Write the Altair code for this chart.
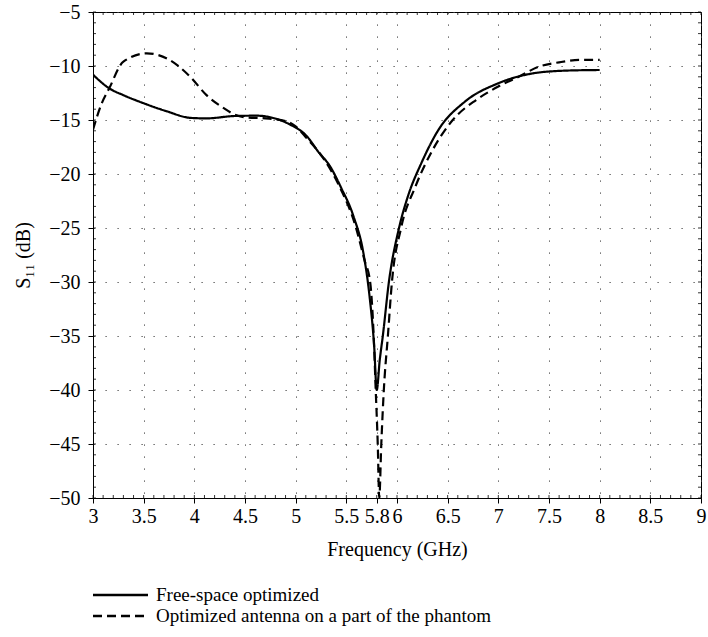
import altair as alt
import pandas as pd

# ---- data ----
freq_free = [3.0, 3.16, 3.3, 3.5, 3.73, 3.96, 4.12, 4.4, 4.62, 4.75, 4.94, 5.11, 5.22, 5.34,
             5.45, 5.57, 5.67, 5.73, 5.775, 5.80, 5.83, 5.86, 5.92, 6.02, 6.11, 6.24, 6.41,
             6.67, 7.0, 7.33, 7.66, 8.0]
s11_free = [-10.8, -12.07, -12.7, -13.45, -14.2, -14.8, -14.85, -14.63, -14.6, -14.75, -15.4,
            -16.5, -17.9, -19.3, -21.3, -23.9, -27.4, -31.4, -36.0, -40.0, -37.2, -35.0, -30.0,
            -25.0, -22.0, -19.0, -15.9, -13.3, -11.6, -10.7, -10.43, -10.37]

freq_ph = [3.0, 3.08, 3.16, 3.3, 3.53, 3.73, 3.96, 4.12, 4.29, 4.40, 4.5, 4.7, 4.9, 5.0, 5.11,
           5.27, 5.45, 5.58, 5.68, 5.735, 5.77, 5.79, 5.81, 5.825, 5.845, 5.87, 5.91, 5.95,
           6.04, 6.18, 6.35, 6.55, 6.78, 7.0, 7.2, 7.4, 7.6, 7.8, 8.0]
s11_ph = [-15.9, -13.6, -12.07, -9.6, -8.83, -9.3, -11.0, -12.7, -13.9, -14.5, -14.75, -14.85,
          -15.1, -15.6, -16.7, -18.5, -21.5, -24.5, -28.0, -30.0, -35.0, -40.0, -45.0, -50.0,
          -45.0, -40.0, -35.0, -30.0, -25.0, -21.2, -17.8, -15.0, -13.15, -11.9, -11.0, -10.06,
          -9.66, -9.44, -9.44]

series_names = ["Free-space optimized", "Optimized antenna on a part of the phantom"]
x_ticks = [3, 3.5, 4, 4.5, 5, 5.5, 5.8, 6, 6.5, 7, 7.5, 8, 8.5, 9]
y_ticks = [-5, -10, -15, -20, -25, -30, -35, -40, -45, -50]
x_minor = [round(3 + 0.1 * i, 1) for i in range(61)]
y_minor = list(range(-50, -4))

df = pd.concat([
    pd.DataFrame({"f": freq_free, "s11": s11_free, "series": series_names[0]}),
    pd.DataFrame({"f": freq_ph, "s11": s11_ph, "series": series_names[1]}),
])

W, H = 608, 486
FONT = "Liberation Serif"
FS = 20

xscale = alt.Scale(domain=[3, 9], nice=False, zero=False)
yscale = alt.Scale(domain=[-50, -5], nice=False, zero=False)

grid_kw = dict(grid=True, gridColor="#444", gridDash=[1.2, 10.8], gridWidth=1,
               domainColor="black", tickColor="black", tickSize=5, tickWidth=1,
               labelFont=FONT, labelFontSize=FS, labelColor="black",
               titleFont=FONT, titleFontSize=FS, titleColor="black", titleFontWeight="normal",
               labelFlush=False, labelOverlap=False)

x_axis = alt.Axis(values=x_ticks, format="~g", title="Frequency (GHz)",
                  labelPadding=3, titleX=W / 2, titleY=51, titleBaseline="middle",
                  titleAlign="center", **grid_kw)
y_axis = alt.Axis(values=y_ticks, title="S₁₁ (dB)", labelPadding=8,
                  titleX=-70, titleY=H / 2, titleAngle=-90, titleBaseline="middle",
                  titleAlign="center", **grid_kw)

lines = alt.Chart(df).mark_line(color="black", strokeWidth=2.2, clip=True,
                                interpolate="monotone").encode(
    x=alt.X("f:Q", scale=xscale, axis=x_axis),
    y=alt.Y("s11:Q", scale=yscale, axis=y_axis),
    strokeDash=alt.StrokeDash("series:N",
                              scale=alt.Scale(domain=series_names, range=[[1, 0], [9, 5]]),
                              legend=None),
)

dfx = pd.DataFrame({"f": x_minor})
dfy = pd.DataFrame({"s11": y_minor})
tick_style = dict(color="black", strokeWidth=0.8)
mx_bottom = alt.Chart(dfx).mark_rule(**tick_style).encode(
    x=alt.X("f:Q", scale=xscale, axis=x_axis), y=alt.value(H), y2=alt.value(H - 3))
mx_top = alt.Chart(dfx).mark_rule(**tick_style).encode(
    x=alt.X("f:Q", scale=xscale, axis=x_axis), y=alt.value(0), y2=alt.value(3))
my_left = alt.Chart(dfy).mark_rule(**tick_style).encode(
    y=alt.Y("s11:Q", scale=yscale, axis=y_axis), x=alt.value(0), x2=alt.value(3))
my_right = alt.Chart(dfy).mark_rule(**tick_style).encode(
    y=alt.Y("s11:Q", scale=yscale, axis=y_axis), x=alt.value(W - 3), x2=alt.value(W))

one = pd.DataFrame({"a": [0]})
leg_rows = [583, 604]
leg_layers = []
for name, dash, yy in zip(series_names, [[1, 0], [9, 5]], leg_rows):
    leg_layers.append(alt.Chart(one).mark_rule(color="black", strokeWidth=2.4, strokeDash=dash).encode(
        x=alt.value(0), x2=alt.value(55), y=alt.value(yy)))
    leg_layers.append(alt.Chart(one).mark_text(align="left", baseline="middle", font=FONT,
                                               fontSize=19, color="black", text=name).encode(
        x=alt.value(63), y=alt.value(yy)))

chart = alt.layer(lines, mx_bottom, mx_top, my_left, my_right, *leg_layers).properties(
    width=W, height=H,
    padding={"left": 93, "top": 12, "right": 7, "bottom": 139},
    autosize=alt.AutoSizeParams(type="none"),
    background="white",
).configure_view(stroke="black", strokeWidth=1)

chart.save("out.html", embed_options={"renderer": "svg", "actions": False})
